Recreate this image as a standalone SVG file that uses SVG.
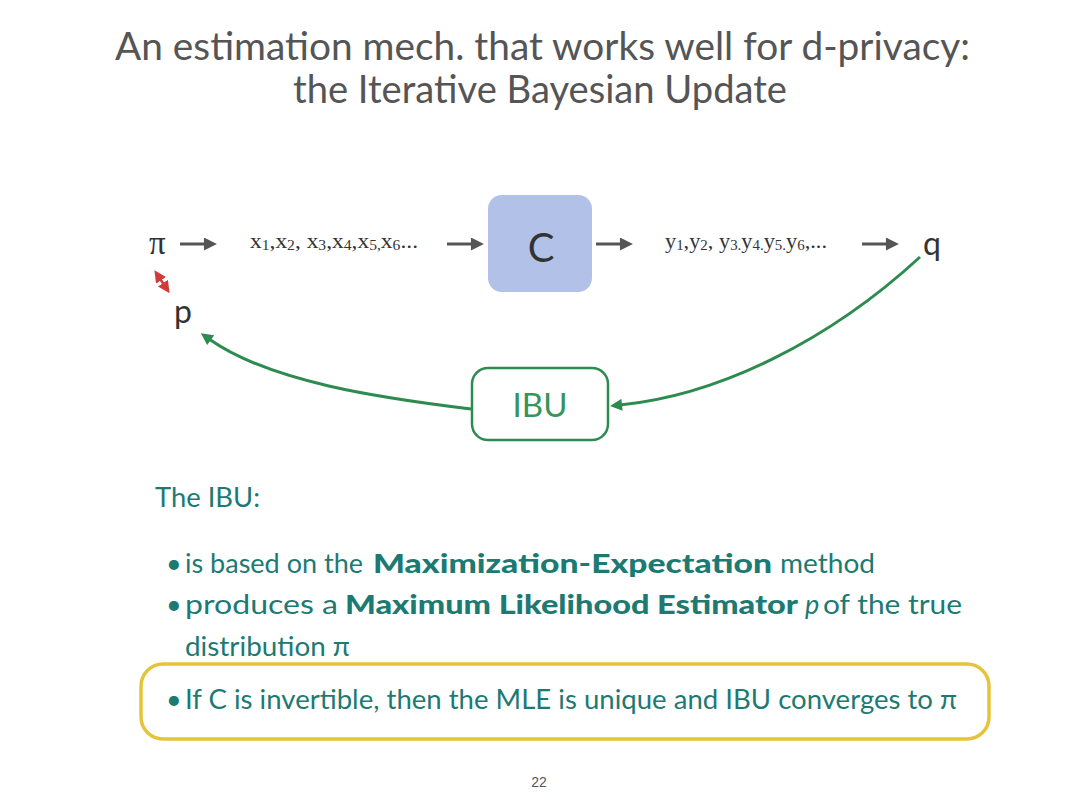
<svg xmlns="http://www.w3.org/2000/svg" width="1080" height="809" viewBox="0 0 1080 809">
<defs>
<style>
.title{font-family:Lato,"Open Sans","Liberation Sans",sans-serif;font-size:38px;fill:#555555}
.sym{font-family:Lato,"Open Sans","Liberation Sans",sans-serif;fill:#333333}
.serif{font-family:"Liberation Serif","DejaVu Serif",serif;fill:#333333}
.body{font-family:Lato,"Open Sans","Liberation Sans",sans-serif;font-size:27px;fill:#1d7a73}
.bold{font-weight:900}
.gray{stroke:#555555;stroke-width:3;fill:none}
.green{stroke:#2e8b50;stroke-width:3;fill:none}
</style>
<marker id="ag" viewBox="0 0 12 12" refX="1" refY="6" markerWidth="14" markerHeight="13" markerUnits="userSpaceOnUse" orient="auto"><path d="M0,0 L12,6 L0,12 Z" fill="#555555"/></marker>
<marker id="agr" viewBox="0 0 12 12" refX="2" refY="6" markerWidth="13" markerHeight="12" markerUnits="userSpaceOnUse" orient="auto"><path d="M0,0 L12,6 L0,12 Z" fill="#2e8b50"/></marker>
<marker id="ar" viewBox="0 0 12 12" refX="1" refY="6" markerWidth="12" markerHeight="13" markerUnits="userSpaceOnUse" orient="auto-start-reverse"><path d="M0,0 L12,6 L0,12 Z" fill="#d03a3a"/></marker>
</defs>
<rect width="1080" height="809" fill="#ffffff"/>
<g id="title">
<text class="title" x="115" y="60" textLength="855" lengthAdjust="spacingAndGlyphs">An estimation mech. that works well for d-privacy:</text>
<text class="title" x="293" y="103" textLength="494" lengthAdjust="spacingAndGlyphs">the Iterative Bayesian Update</text>
</g>
<g id="connectors">
<line class="gray" x1="180" y1="244" x2="205" y2="244" marker-end="url(#ag)"/>
<line class="gray" x1="447" y1="244" x2="472" y2="244" marker-end="url(#ag)"/>
<line class="gray" x1="596" y1="244" x2="621" y2="244" marker-end="url(#ag)"/>
<line class="gray" x1="862" y1="244" x2="887" y2="244" marker-end="url(#ag)"/>
<line x1="160.5" y1="279.5" x2="163.5" y2="284" stroke="#d03a3a" stroke-width="2.5" marker-start="url(#ar)" marker-end="url(#ar)"/>
<path class="green" d="M920,257 C830,340 720,395 620,405" marker-end="url(#agr)"/>
<path class="green" d="M471,409 C380,398 270,382 209,339" marker-end="url(#agr)"/>
</g>
<g id="node-pi"><text class="serif" x="149" y="254" font-size="33" fill="#222222">π</text></g>
<g id="node-x"><text class="serif" x="250" y="248" font-size="21" textLength="168" lengthAdjust="spacingAndGlyphs">x<tspan font-size="14" dy="2">1</tspan><tspan dy="-2">,x</tspan><tspan font-size="14" dy="2">2</tspan><tspan dy="-2">, x</tspan><tspan font-size="14" dy="2">3</tspan><tspan dy="-2">,x</tspan><tspan font-size="14" dy="2">4</tspan><tspan dy="-2">,x</tspan><tspan font-size="14" dy="2">5,</tspan><tspan dy="-2">x</tspan><tspan font-size="14" dy="2">6</tspan><tspan dy="-2">...</tspan></text></g>
<g id="node-C">
<rect x="488" y="195" width="104" height="97" rx="14" fill="#b2c1e7"/>
<text class="sym" x="541" y="262" font-size="40" text-anchor="middle">C</text>
</g>
<g id="node-y"><text class="serif" x="665" y="248" font-size="21" textLength="162" lengthAdjust="spacingAndGlyphs">y<tspan font-size="14" dy="2">1</tspan><tspan dy="-2">,y</tspan><tspan font-size="14" dy="2">2</tspan><tspan dy="-2">, y</tspan><tspan font-size="14" dy="2">3.</tspan><tspan dy="-2">y</tspan><tspan font-size="14" dy="2">4.</tspan><tspan dy="-2">y</tspan><tspan font-size="14" dy="2">5.</tspan><tspan dy="-2">y</tspan><tspan font-size="14" dy="2">6</tspan><tspan dy="-2">,...</tspan></text></g>
<g id="node-q"><text class="sym" x="923" y="255" font-size="32">q</text></g>
<g id="node-p"><text class="sym" x="174" y="323" font-size="32">p</text></g>
<g id="node-IBU">
<rect x="472" y="368" width="136" height="72" rx="16" fill="#ffffff" stroke="#2e8b50" stroke-width="2.5"/>
<text x="540" y="417" font-family="Lato,'Open Sans','Liberation Sans',sans-serif" font-size="33" fill="#37945a" text-anchor="middle">IBU</text>
</g>
<g id="bullets">
<text class="body" x="155" y="507" font-size="27" textLength="105" lengthAdjust="spacingAndGlyphs">The IBU:</text>
<text class="body" x="166" y="573">•</text>
<text class="body" x="185" y="573" textLength="178" lengthAdjust="spacingAndGlyphs">is based on the</text>
<text class="body bold" x="373" y="573" textLength="399" lengthAdjust="spacingAndGlyphs">Maximization-Expectation</text>
<text class="body" x="780" y="573" textLength="95" lengthAdjust="spacingAndGlyphs">method</text>
<text class="body" x="166" y="614">•</text>
<text class="body" x="185" y="614" textLength="153" lengthAdjust="spacingAndGlyphs">produces a</text>
<text class="body bold" x="345" y="614" textLength="453" lengthAdjust="spacingAndGlyphs">Maximum Likelihood Estimator</text>
<text class="body" x="805" y="614" font-size="25" font-style="italic">p</text>
<text class="body" x="823" y="614" textLength="139" lengthAdjust="spacingAndGlyphs">of the true</text>
<text class="body" x="185" y="656" textLength="165" lengthAdjust="spacingAndGlyphs">distribution π</text>
<rect x="141" y="664" width="848" height="75" rx="22" fill="none" stroke="#e6c43a" stroke-width="3.5"/>
<text class="body" x="166" y="709">•</text>
<text class="body" x="185" y="709" textLength="772" lengthAdjust="spacingAndGlyphs">If C is invertible, then the MLE is unique and IBU converges to π</text>
</g>
<text x="539" y="787" font-family="'Liberation Sans',Arial,sans-serif" font-size="14" fill="#555555" text-anchor="middle">22</text>
</svg>
